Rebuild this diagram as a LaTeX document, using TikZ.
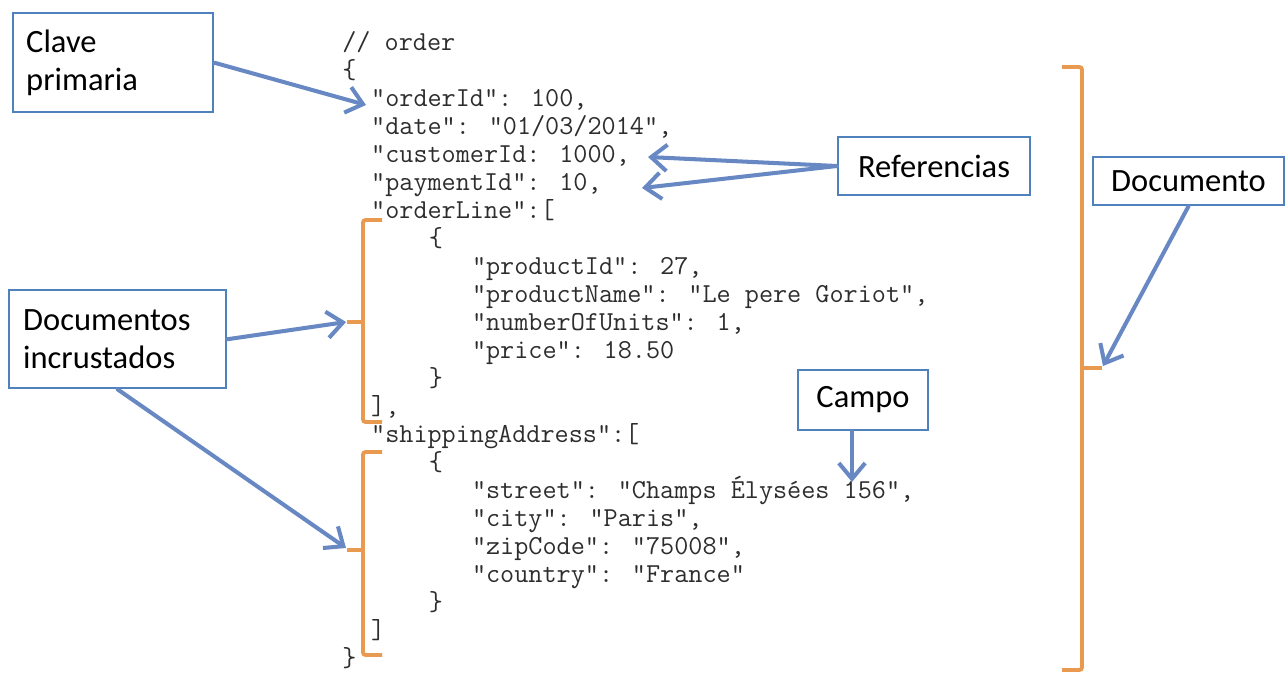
\documentclass[tikz,border=0pt]{standalone}
\usepackage{fontspec}
\newfontfamily\labelfont{Carlito}
\usetikzlibrary{arrows.meta}

\definecolor{boxblue}{RGB}{79,129,189}
\definecolor{arrowblue}{RGB}{104,136,196}
\definecolor{braceorange}{RGB}{232,155,80}
\definecolor{codegray}{RGB}{45,45,45}

\newlength\cw
\setlength\cw{8.2pt}
\newcommand\indt[1]{\hspace*{#1\cw}}

\tikzset{
    lbl/.style={draw=boxblue, line width=1.4pt, fill=white, inner sep=0pt,
        font=\labelfont\fontsize{18.5}{21.6}\selectfont},
    ptr/.style={arrowblue, line width=2.3pt, line cap=round,
        -{Straight Barb[length=9pt, width=15pt]}},
    brc/.style={braceorange, line width=2.2pt, rounded corners=1.5pt},
}

\begin{document}
\begin{tikzpicture}[x=0.02cm, y=-0.02cm]
    \useasboundingbox (0, 0) rectangle (1286, 674);

    % JSON listing
    \node[anchor=north west, inner sep=0pt, align=left, text=codegray,
          font=\ttfamily\fontsize{15.6}{15.95}\selectfont] (code) at (342, 31) {
        // order\\
        \{\\
        \indt{2}“orderId”: 100,\\
        \indt{2}“date”: “01/03/2014”,\\
        \indt{2}“customerId: 1000,\\
        \indt{2}“paymentId”: 10,\\
        \indt{2}“orderLine”:[\\
        \indt{6}\{\\
        \indt{9}“productId”: 27,\\
        \indt{9}“productName”: “Le pere Goriot”,\\
        \indt{9}“numberOfUnits”: 1,\\
        \indt{9}“price”: 18.50\\
        \indt{6}\}\\
        \indt{2}],\\
        \indt{2}“shippingAddress”:[\\
        \indt{6}\{\\
        \indt{9}“street”: “Champs Élysées 156”,\\
        \indt{9}“city”: “Paris”,\\
        \indt{9}“zipCode”: “75008”,\\
        \indt{9}“country”: “France”\\
        \indt{6}\}\\
        \indt{2}]\\
        \}};

    % Braces
    \draw[brc] (1062, 67) -- (1082, 67) -- (1082, 670) -- (1062, 670);
    \draw[brc] (1082, 368) -- (1102, 368);
    \draw[brc] (382, 220) -- (363, 220) -- (363, 422) -- (382, 422);
    \draw[brc] (363, 322) -- (347, 322);
    \draw[brc] (382, 452) -- (363, 452) -- (363, 655) -- (382, 655);
    \draw[brc] (363, 550) -- (347, 550);

    % Targets
    \coordinate (pk) at (366, 105);
    \coordinate (ref1) at (648, 157);
    \coordinate (ref2) at (642, 188);
    \coordinate (doctip) at (1103, 366);
    \coordinate (emb1) at (346, 322);
    \coordinate (emb2) at (346, 548);
    \coordinate (fld) at (852, 482);

    % Labels
    \node[lbl, anchor=north west, text width=3.48cm, inner xsep=0.26cm,
          minimum height=1.98cm, align=left] (clave) at (12, 12) {Clave\\primaria};
    \node[lbl, minimum width=3.84cm, minimum height=1.16cm] (refs) at (934, 166) {Referencias};
    \node[lbl, minimum width=3.82cm, minimum height=0.96cm] (doc) at (1188.5, 181) {Documento};
    \node[lbl, anchor=north west, text width=3.78cm, inner xsep=0.28cm,
          minimum height=1.96cm, align=left] (embed) at (8, 289) {Documentos\\incrustados};
    \node[lbl, minimum width=2.6cm, minimum height=1.2cm] (campo) at (863, 400) {Campo};

    % Pointers
    \draw[ptr] (clave.east) -- (pk);
    \draw[ptr] (refs.west) -- (ref1);
    \draw[ptr] (refs.west) -- (ref2);
    \draw[ptr] (doc.south) -- (doctip);
    \draw[ptr] (embed.east) -- (emb1);
    \draw[ptr] (embed.south) -- (emb2);
    \draw[ptr] (campo.south -| fld) -- (fld);
\end{tikzpicture}
\end{document}
